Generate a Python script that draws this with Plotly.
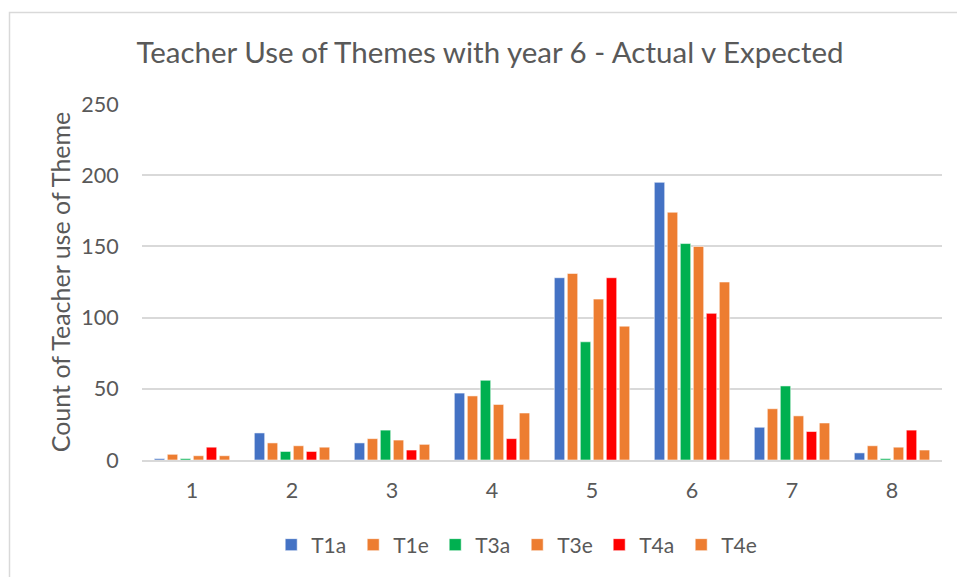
import plotly.graph_objects as go

# Year-6 teacher theme counts: actual (a) vs expected (e) per level
levels = ["1", "2", "3", "4", "5", "6", "7", "8"]
series_names = ["T1a", "T1e", "T3a", "T3e", "T4a", "T4e"]
t1a = [1, 19, 12, 47, 128, 195, 23, 5]
t1e = [4, 12, 15, 45, 131, 174, 36, 10]
t3a = [1, 6, 21, 56, 83, 152, 52, 1]
t3e = [3, 10, 14, 39, 113, 150, 31, 9]
t4a = [9, 6, 7, 15, 128, 103, 20, 21]
t4e = [3, 9, 11, 33, 94, 125, 26, 7]
y_ticks = [0, 50, 100, 150, 200, 250]

colors = ["#4472C4", "#ED7D31", "#00B050", "#ED7D31", "#FF0000", "#ED7D31"]
values = [t1a, t1e, t3a, t3e, t4a, t4e]

FONT = "Lato"
TEXT = "#595959"
GRID = "#D9D9D9"

fig = go.Figure()
for name, vals, col in zip(series_names, values, colors):
    fig.add_trace(go.Bar(
        x=levels, y=vals, name=name,
        marker=dict(color=col, line=dict(color="rgba(255,255,255,0.55)", width=1)),
    ))

fig.update_layout(
    width=957, height=577,
    margin=dict(l=142, r=15, t=104, b=117, autoexpand=False),
    paper_bgcolor="white", plot_bgcolor="white",
    barmode="group", bargap=0.22, bargroupgap=0.2,
    font=dict(family=FONT, color=TEXT, size=21),
    title=dict(
        text="Teacher Use of Themes with year 6 - Actual v Expected",
        x=490 / 957, xanchor="center", xref="container",
        y=1 - 53 / 577, yanchor="middle", yref="container",
        font=dict(family=FONT, size=29.5, color=TEXT),
    ),
    legend=dict(
        orientation="h", x=0.469, xanchor="center", xref="paper",
        y=(460 - 545) / 356, yanchor="middle",
        font=dict(family=FONT, size=21, color=TEXT),
        entrywidth=37, itemwidth=30,
    ),
    showlegend=True,
)

fig.update_xaxes(
    type="category", showgrid=False, showline=True, linecolor=GRID, linewidth=2,
    ticks="outside", ticklen=10, tickcolor="rgba(0,0,0,0)",
    tickfont=dict(family=FONT, size=21.5, color=TEXT),
)
fig.update_yaxes(
    range=[0, 250], tickvals=y_ticks, showgrid=True, gridcolor=GRID, gridwidth=2,
    zeroline=False, showline=False,
    ticks="outside", ticklen=18, tickcolor="rgba(0,0,0,0)",
    tickfont=dict(family=FONT, size=21.5, color=TEXT),
    title=dict(text="Count of Teacher use of Theme", font=dict(family=FONT, size=25, color=TEXT),
               standoff=3),
)

# Chart-area frame running off the right and bottom edges
fig.add_shape(type="rect", xref="paper", yref="paper",
              x0=(9.5 - 142) / 800, x1=1.1, y0=-0.4, y1=(460 - 12.5) / 356,
              line=dict(color=GRID, width=1.5), fillcolor="rgba(0,0,0,0)", layer="below")

fig.write_html("out.html")
